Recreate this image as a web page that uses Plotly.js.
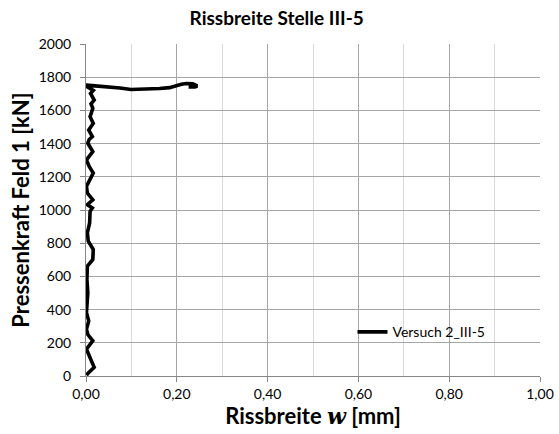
<!DOCTYPE html>
<html>
<head>
<meta charset="utf-8">
<script src="https://cdn.plot.ly/plotly-3.0.1.min.js"></script>
<style>html,body{margin:0;padding:0;background:#fff;}</style>
</head>
<body>
<div id="chart" style="width:559px;height:434px;"></div>
<script>
// Rissbreite w [mm]
const rissbreite = [0.001, 0.004, 0.018, 0.008, 0.001, 0.015, 0.004, 0.001, 0.006, 0.001, 0.002, 0.004, 0.002,
  0.003, 0.015, 0.016, 0.005, 0.003, 0.008, 0.009, 0.014, 0.003, 0.015, 0.003, 0.001, 0.016, 0.007, 0.001,
  0.015, 0.004, 0.007, 0.014, 0.006, 0.016, 0.009, 0.015, 0.011, 0.018, 0.010, 0.016, 0.003, 0.000,
  0.020, 0.051, 0.075, 0.099, 0.130, 0.162, 0.184, 0.199, 0.210, 0.221, 0.235, 0.245, 0.240, 0.226];
// Pressenkraft Feld 1 [kN]
const pressenkraft = [5, 15, 52, 110, 162, 212, 250, 282, 332, 382, 420, 502, 582,
  662, 702, 762, 812, 862, 922, 992, 1012, 1032, 1062, 1102, 1142, 1222, 1262, 1302,
  1352, 1402, 1425, 1442, 1482, 1522, 1562, 1612, 1640, 1662, 1702, 1720, 1742, 1752,
  1748, 1742, 1735, 1726, 1728, 1732, 1737, 1752, 1758, 1762, 1760, 1747, 1742, 1742];
const seriesName = "Versuch 2_III-5";
const chartTitle = "Rissbreite Stelle III-5";
const xTitle = "<b>Rissbreite <i><span style=\"font-family:'DejaVu Serif'\">w</span></i> [mm]</b>";
const yTitle = "<b>Pressenkraft Feld 1 [kN]</b>";

const font = "Lato, 'Open Sans', sans-serif";
const trace = {
  x: rissbreite, y: pressenkraft, type: "scatter", mode: "lines", name: seriesName,
  line: {color: "#000000", width: 3.6}
};
const layout = {
  width: 559, height: 434,
  margin: {l: 86, r: 19, t: 44, b: 58},
  paper_bgcolor: "#ffffff", plot_bgcolor: "#ffffff",
  font: {family: font, color: "#000000", size: 14},
  separators: ",.",
  title: {text: chartTitle, font: {family: font, size: 19, color: "#000", weight: "bold"},
          x: 0.495, xref: "container", xanchor: "center", y: 0.957, yanchor: "middle"},
  xaxis: {
    range: [0, 1], tick0: 0, dtick: 0.2, tickformat: ".2f",
    showgrid: true, gridcolor: "#a6a6a6", gridwidth: 1,
    showline: true, linecolor: "#868686", linewidth: 1,
    ticks: "outside", ticklen: 5, tickcolor: "#868686",
    minor: {dtick: 0.1, showgrid: true, gridcolor: "#d9d9d9", gridwidth: 1, ticks: ""},
    zeroline: false, fixedrange: true,
    tickfont: {size: 14, color: "#000"},
    title: {text: xTitle, font: {size: 22, color: "#000", weight: "bold"}, standoff: 7}
  },
  yaxis: {
    range: [0, 2000], tick0: 0, dtick: 200,
    showgrid: true, gridcolor: "#a6a6a6", gridwidth: 1,
    showline: true, linecolor: "#868686", linewidth: 1,
    ticks: "outside", ticklen: 5, tickcolor: "#868686",
    ticklabelstandoff: 6,
    zeroline: false, fixedrange: true,
    tickfont: {size: 14, color: "#000"},
    title: {text: yTitle, font: {size: 22, color: "#000", weight: "bold"}, standoff: 3}
  },
  showlegend: true,
  legend: {x: 0.587, y: 0.18, xanchor: "left", yanchor: "top",
           bgcolor: "rgba(0,0,0,0)", borderwidth: 0,
           font: {size: 14, color: "#000"}},
  shapes: [{type: "rect", xref: "paper", yref: "paper", x0: 0.565, x1: 0.927, y0: 0.033, y1: 0.222,
            fillcolor: "#ffffff", line: {width: 0}, layer: "below"}]
};
Plotly.newPlot("chart", [trace], layout, {staticPlot: true, displayModeBar: false});
</script>
</body>
</html>
